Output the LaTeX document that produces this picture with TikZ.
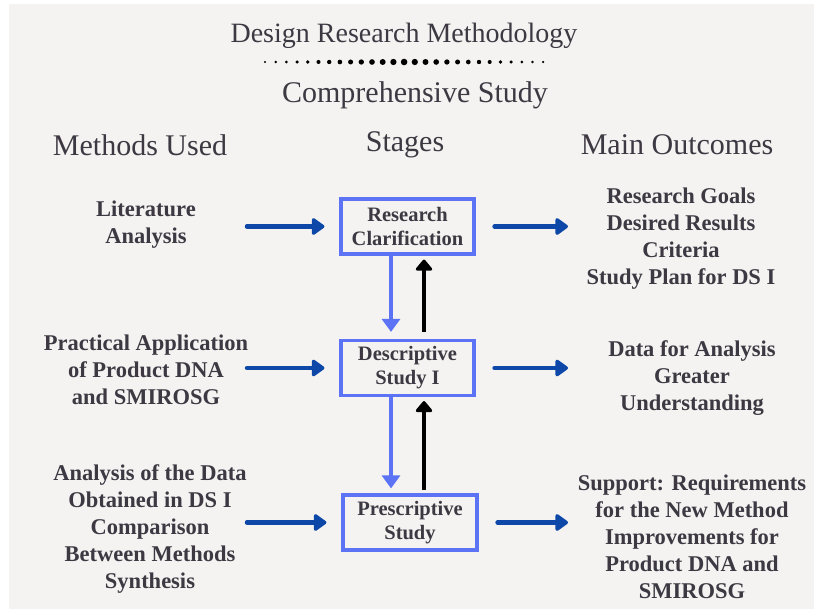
\documentclass[tikz,border=0pt]{standalone}
\usepackage{fontspec}
\setmainfont{Liberation Serif}
\usepackage{tikz}
\usetikzlibrary{arrows.meta}
\usetikzlibrary{positioning}
\definecolor{mpaper}{rgb}{0.957, 0.953, 0.945}
\definecolor{mink}{rgb}{0.24, 0.22, 0.26}
\definecolor{mbox}{rgb}{0.36, 0.45, 0.96}
\definecolor{mnavy}{rgb}{0.05, 0.28, 0.66}
\tikzset{stagebox/.style = {draw=mbox, line width=3.2pt, minimum width=133pt, minimum height=55pt,
                            align=center, text=mink, inner sep=0pt,
                            font=\fontsize{20.5}{24}\selectfont\bfseries},
         notes/.style = {align=center, text=mink, inner sep=0pt,
                         font=\fontsize{22.5}{27}\selectfont\bfseries},
         heading/.style = {text=mink, inner sep=0pt, font=\fontsize{30}{36}\selectfont},
         feed/.style = {mnavy, line width=4.5pt, line cap=round,
                        -{Triangle[length=14pt, width=19pt, round]}},
         down/.style = {mbox, line width=4.5pt, -{Triangle[length=13pt, width=18pt]}},
         back/.style = {black, line width=4.5pt, -{Triangle[length=12pt, width=19pt, round]}}}

\begin{document}
\begin{tikzpicture}[x=1pt, y=-1pt]
    \useasboundingbox (0, 0) rectangle (814, 609);
    \fill [white] (0, 0) rectangle (814, 609);
    \fill [mpaper] (9, 4) rectangle (814, 609);

    \node [text=mink, inner sep=0pt, font=\fontsize{28}{34}\selectfont] (title) at (404, 36) {Design Research Methodology};
    \foreach \i in {0,...,26} {
      \fill [black] (265 + \i*10.7, 62) circle ({3.3 - 0.16*abs(\i - 13)});
    }
    \node [heading] (study) at (415, 95) {Comprehensive Study};

    \node [heading] (methods) at (140, 145) {Methods Used};
    \node [heading] (stages) at (405, 145) {Stages};
    \node [heading] (outcomes) at (677, 145) {Main Outcomes};

    \node [stagebox] (rc) at (407.5, 226.5) {Research\\Clarification};
    \node [stagebox] (ds) at (407.5, 368) {Descriptive\\Study I};
    \node [stagebox, minimum width=134pt] (ps) at (410, 522.5) {Prescriptive\\Study};

    \node [notes] (lit) at (146, 225) {Literature\\Analysis};
    \node [notes] (app) at (146, 370) {Practical Application\\of Product DNA\\and SMIROSG};
    \node [notes] (ana) at (150, 529) {Analysis of the Data\\Obtained in DS I\\Comparison\\Between Methods\\Synthesis};

    \node [notes] (goals) at (681, 239) {Research Goals\\Desired Results\\Criteria\\Study Plan for DS I};
    \node [notes] (data) at (692, 378) {Data for Analysis\\Greater\\Understanding};
    \node [notes] (support) at (692, 537) {Support: Requirements\\for the New Method\\Improvements for\\Product DNA and\\SMIROSG};

    % method -> stage -> outcome
    \foreach \s/\n in {rc/1, ds/2, ps/3} {
      \coordinate (in\n) at (247, 0);
      \coordinate (out\n) at (568, 0);
      \draw [feed, shorten >=15pt] (in\n |- \s.west) -- (\s.west);
      \draw [feed, shorten <=19pt] (\s.east) -- (out\n |- \s.east);
    }

    \draw [down, shorten >=7pt] ([xshift=-16.5pt]rc.south) -- ([xshift=-16.5pt]rc.south |- ds.north);
    \draw [back, shorten <=7pt, shorten >=4pt] ([xshift=16.5pt]rc.south |- ds.north) -- ([xshift=16.5pt]rc.south);
    \draw [down, shorten >=5pt] ([xshift=-16.5pt]ds.south) -- ([xshift=-16.5pt]ds.south |- ps.north);
    \draw [back, shorten <=3pt, shorten >=4pt] ([xshift=16.5pt]ds.south |- ps.north) -- ([xshift=16.5pt]ds.south);
\end{tikzpicture}
\end{document}
